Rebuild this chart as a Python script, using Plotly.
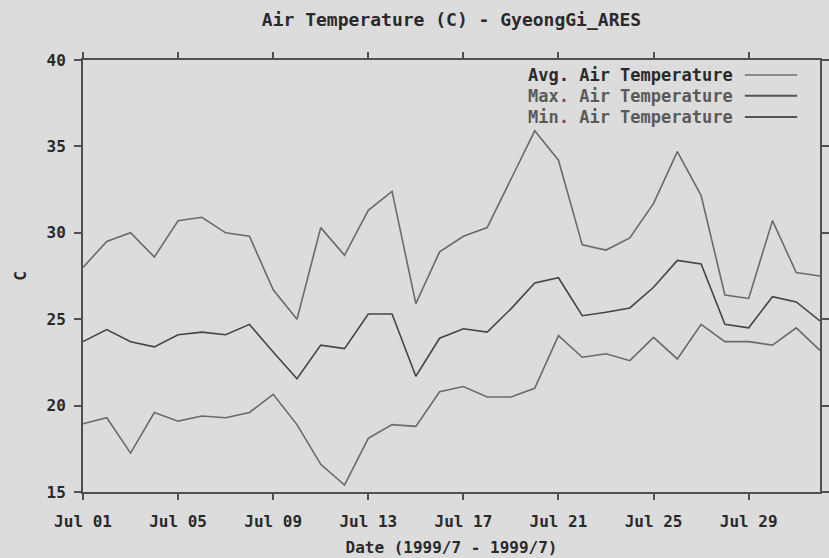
import plotly.graph_objects as go
import pandas as pd

dates = pd.date_range("1999-07-01", "1999-08-01", freq="D").strftime("%Y-%m-%d").tolist()

avg_temp = [23.7, 24.4, 23.7, 23.4, 24.1, 24.25, 24.1, 24.7, 23.1, 21.55,
            23.5, 23.3, 25.3, 25.3, 21.7, 23.9, 24.45, 24.25, 25.6, 27.1,
            27.4, 25.2, 25.4, 25.65, 26.85, 28.4, 28.2, 24.7, 24.5, 26.3,
            26.0, 24.9]
max_temp = [28.0, 29.5, 30.0, 28.6, 30.7, 30.9, 30.0, 29.8, 26.7, 25.0,
            30.3, 28.7, 31.3, 32.4, 25.9, 28.9, 29.8, 30.3, 33.1, 35.9,
            34.2, 29.3, 29.0, 29.7, 31.7, 34.7, 32.15, 26.4, 26.2, 30.7,
            27.7, 27.5]
min_temp = [18.95, 19.3, 17.25, 19.6, 19.1, 19.4, 19.3, 19.6, 20.65, 18.9,
            16.6, 15.4, 18.1, 18.9, 18.8, 20.8, 21.1, 20.5, 20.5, 21.0,
            24.05, 22.8, 23.0, 22.6, 23.95, 22.7, 24.7, 23.7, 23.7, 23.5,
            24.5, 23.2]

series_names = ["Avg. Air Temperature", "Max. Air Temperature", "Min. Air Temperature"]
series_values = [avg_temp, max_temp, min_temp]
series_colors = ["#454545", "#6a6a6a", "#6a6a6a"]
text_colors = ["#2a2a2a", "#5a5a5a", "#5a5a5a"]
legend_line_colors = ["#8a8a8a", "#555555", "#555555"]

title_text = "Air Temperature (C) - GyeongGi_ARES"
x_title = "Date (1999/7 - 1999/7)"
y_title = "C"

FONT = "DejaVu Sans Mono"
BG = "#dcdcdc"
AX = "#505050"
TXT = "#2a2a2a"

fig = go.Figure()
for name, vals, col in zip(series_names, series_values, series_colors):
    fig.add_trace(go.Scatter(x=dates, y=vals, mode="lines", name=name,
                             line=dict(color=col, width=1.6), showlegend=False))

# legend drawn as text + line samples, text before line as in the original
legend_y = [0.965, 0.917, 0.868]
for name, yy, tc, lc in zip(series_names, legend_y, text_colors, legend_line_colors):
    fig.add_annotation(xref="paper", yref="paper", x=0.884, y=yy, text=name,
                       showarrow=False, xanchor="right", yanchor="middle",
                       font=dict(family=FONT, size=17, color=tc, weight="bold"))
    fig.add_shape(type="line", xref="paper", yref="paper", x0=0.898, x1=0.969,
                  y0=yy, y1=yy, line=dict(color=lc, width=2))

fig.update_layout(
    width=829, height=558,
    margin=dict(l=83, r=9, t=60, b=66, autoexpand=False),
    paper_bgcolor=BG, plot_bgcolor=BG,
    title=dict(text=title_text, x=0.5, xanchor="center", xref="paper",
               y=1 - 20 / 558, yref="container", yanchor="middle",
               font=dict(family=FONT, size=18, color=TXT, weight="bold")),
    font=dict(family=FONT, color=TXT),
)

fig.update_xaxes(
    type="date", range=["1999-07-01", "1999-08-01"],
    tick0="1999-07-01", dtick=4 * 86400000, tickformat="%b %d",
    ticks="outside", ticklen=6, tickwidth=1.5, tickcolor=AX,
    showline=True, linecolor=AX, linewidth=2, mirror="ticks",
    showgrid=False, zeroline=False, automargin=False,
    tickfont=dict(family=FONT, size=16, color=TXT, weight="bold"),
    ticklabelstandoff=8,
    title=dict(text=x_title, standoff=12,
               font=dict(family=FONT, size=16, color=TXT, weight="bold")),
)
fig.update_yaxes(
    range=[15, 40], dtick=5,
    ticks="outside", ticklen=7, tickwidth=1.5, tickcolor=AX,
    showline=True, linecolor=AX, linewidth=2, mirror="ticks",
    showgrid=False, zeroline=False, automargin=False,
    tickfont=dict(family=FONT, size=16, color=TXT, weight="bold"),
    ticklabelstandoff=5,
    title=dict(text=y_title, standoff=16,
               font=dict(family=FONT, size=16, color=TXT, weight="bold")),
)

fig.write_html("out.html", config={"displayModeBar": False},
               post_script="document.body.style.margin='0';document.body.style.background='%s';" % BG)
